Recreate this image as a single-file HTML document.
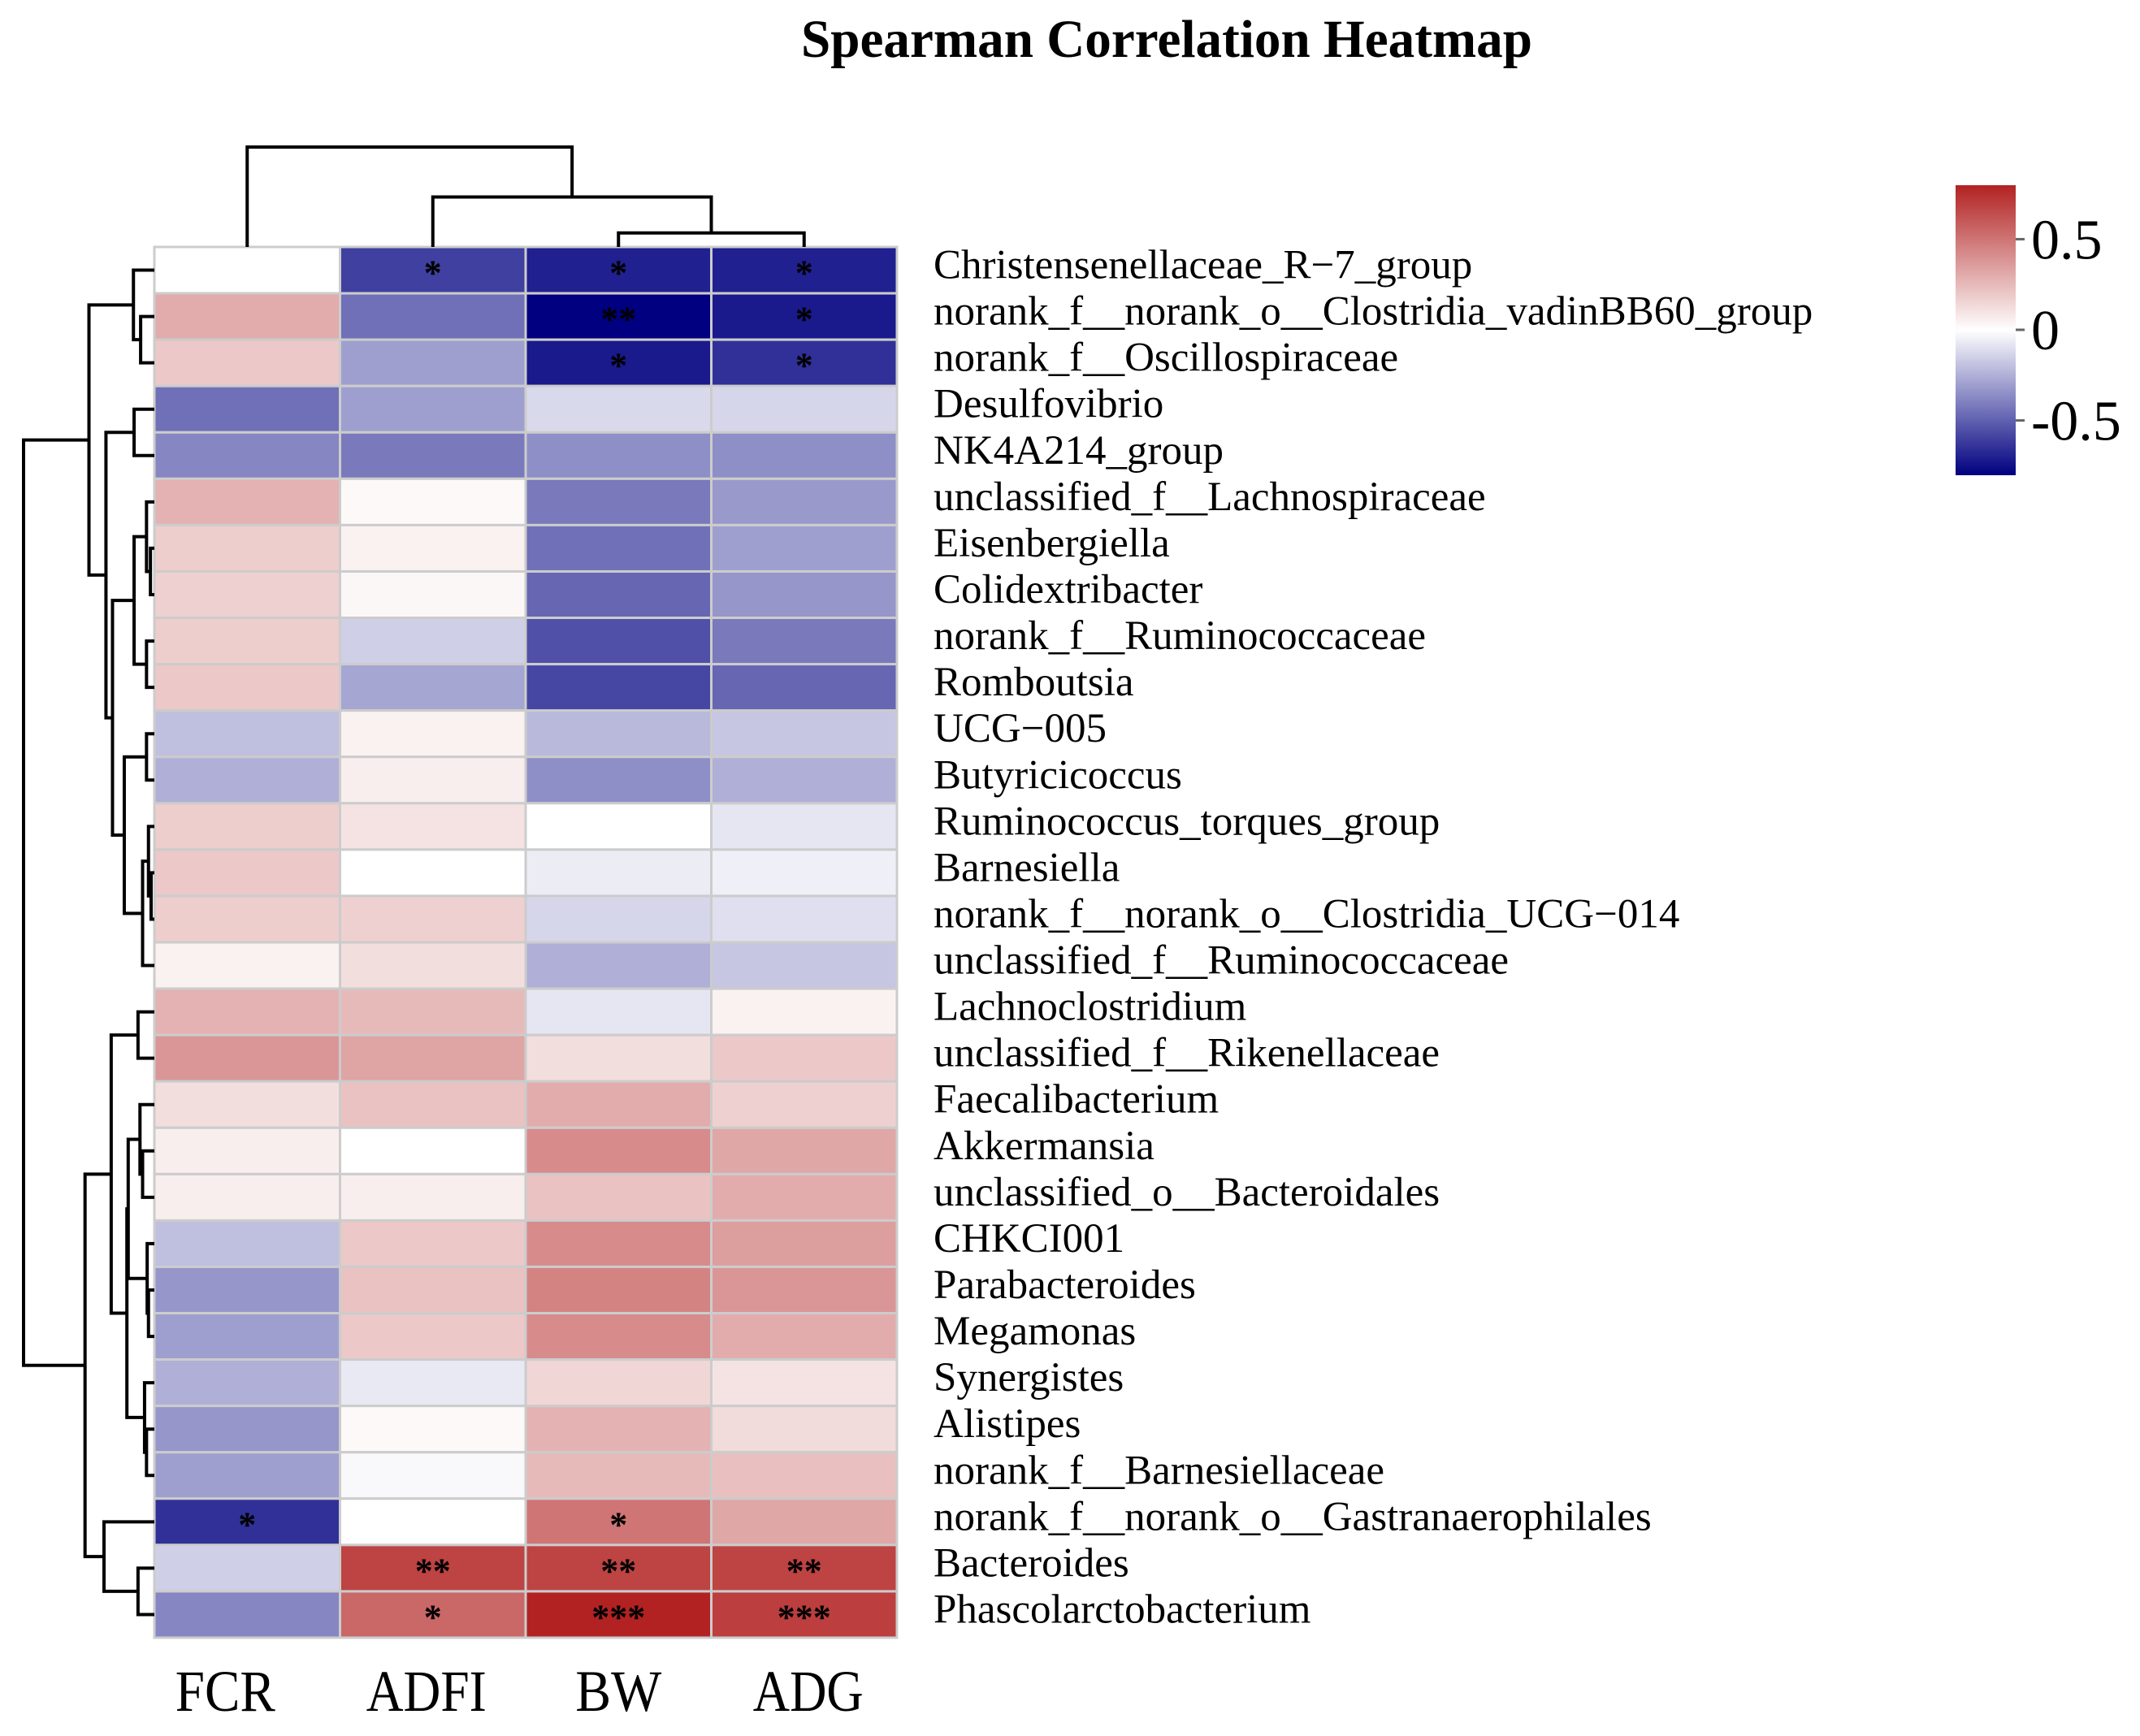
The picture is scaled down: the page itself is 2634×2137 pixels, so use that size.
<!DOCTYPE html>
<html><head><meta charset="utf-8"><style>
html,body{margin:0;padding:0;background:#fff}
svg{display:block}
text{font-family:"Liberation Serif",serif;fill:#000}
</style></head><body>
<svg id="chart" width="2634" height="2137" viewBox="0 0 2634 2137" xmlns="http://www.w3.org/2000/svg">
<rect width="2634" height="2137" fill="#fff"/>
<text x="1436" y="70" font-size="66" font-weight="bold" text-anchor="middle" textLength="900" lengthAdjust="spacingAndGlyphs">Spearman Correlation Heatmap</text>
<g id="cells"></g>
<g id="stars"></g>
<g id="rowlabels"></g>
<g id="collabels"></g>
<g id="rowdend"></g>
<g id="coldend"></g>
<defs>
<linearGradient id="cbgrad" x1="0" y1="1" x2="0" y2="0">
<stop offset="0" stop-color="#000080"/><stop offset="0.5" stop-color="#ffffff"/><stop offset="1" stop-color="#b22222"/>
</linearGradient>
</defs>
<g id="legend">
<rect x="2407" y="228" width="74" height="357" fill="url(#cbgrad)"/>
</g>
</svg>
<script>
const columns = ["FCR","ADFI","BW","ADG"];
const rows = ["Christensenellaceae_R\u22127_group","norank_f__norank_o__Clostridia_vadinBB60_group","norank_f__Oscillospiraceae","Desulfovibrio","NK4A214_group","unclassified_f__Lachnospiraceae","Eisenbergiella","Colidextribacter","norank_f__Ruminococcaceae","Romboutsia","UCG\u2212005","Butyricicoccus","Ruminococcus_torques_group","Barnesiella","norank_f__norank_o__Clostridia_UCG\u2212014","unclassified_f__Ruminococcaceae","Lachnoclostridium","unclassified_f__Rikenellaceae","Faecalibacterium","Akkermansia","unclassified_o__Bacteroidales","CHKCI001","Parabacteroides","Megamonas","Synergistes","Alistipes","norank_f__Barnesiellaceae","norank_f__norank_o__Gastranaerophilales","Bacteroides","Phascolarctobacterium"];
const valFCR  = [0.0,0.3,0.2,-0.45,-0.38,0.28,0.18,0.17,0.18,0.2,-0.2,-0.25,0.18,0.2,0.18,0.05,0.28,0.38,0.12,0.06,0.06,-0.2,-0.33,-0.3,-0.25,-0.33,-0.3,-0.65,-0.15,-0.38];
const valADFI = [-0.6,-0.45,-0.3,-0.3,-0.42,0.02,0.05,0.03,-0.15,-0.28,0.05,0.06,0.1,0.0,0.17,0.12,0.25,0.33,0.22,0.0,0.06,0.2,0.22,0.2,-0.07,0.02,-0.02,0.0,0.68,0.55];
const valBW   = [-0.7,-0.8,-0.72,-0.12,-0.35,-0.42,-0.45,-0.48,-0.55,-0.58,-0.22,-0.35,0.0,-0.06,-0.13,-0.25,-0.08,0.12,0.3,0.42,0.22,0.42,0.45,0.42,0.15,0.28,0.25,0.5,0.68,0.8];
const valADG  = [-0.7,-0.72,-0.65,-0.13,-0.35,-0.32,-0.3,-0.33,-0.42,-0.48,-0.18,-0.25,-0.08,-0.05,-0.1,-0.18,0.05,0.2,0.17,0.32,0.3,0.35,0.38,0.3,0.1,0.13,0.23,0.32,0.68,0.7];
const sigFCR  = ["","","","","","","","","","","","","","","","","","","","","","","","","","","","*","",""];
const sigADFI = ["*","","","","","","","","","","","","","","","","","","","","","","","","","","","","**","*"];
const sigBW   = ["*","**","*","","","","","","","","","","","","","","","","","","","","","","","","","*","**","***"];
const sigADG  = ["*","*","*","","","","","","","","","","","","","","","","","","","","","","","","","","**","***"];
const legendTicks = [0.5,0,-0.5];
const legendTickLabels = ["0.5","0","-0.5"];
const nA1 = [0,[1,2,0.105],0.16];
const nA2 = [3,4,0.155];
const nA3 = [[5,[6,7,0.03],0.06],[8,9,0.06],0.155];
const nA4 = [[10,11,0.06],[[12,[13,14,0.025],0.045],15,0.09],0.23];
const nA = [nA1,[nA2,[nA3,nA4,0.32],0.37],0.5];
const nB1 = [16,17,0.125];
const nB2 = [[18,[19,20,0.09],0.11],[21,[22,23,0.045],0.055],0.2];
const nB3 = [24,[25,26,0.06],0.075];
const nB4 = [27,[28,29,0.125],0.385];
const nB = [[nB1,[nB2,nB3,0.21],0.33],nB4,0.53];
const rowTree = [nA,nB,1.0];
const colTree = [0,[1,[2,3,0.14],0.5],1.0];

const NS="http://www.w3.org/2000/svg";
const X0=190, X1=1104, Y0=304, Y1=2016;
const cw=(X1-X0)/columns.length, rh=(Y1-Y0)/rows.length;
const xCol=i=>X0+i*cw, yRow=i=>Y0+i*rh;
const VMAX=0.8;
function color(v){
  let t=Math.max(-1,Math.min(1,v/VMAX));
  let r,g,b;
  if(t>=0){r=255+(178-255)*t;g=255+(34-255)*t;b=255+(34-255)*t;}
  else{t=-t;r=255-255*t;g=255-255*t;b=255-127*t;}
  return `rgb(${Math.round(r)},${Math.round(g)},${Math.round(b)})`;
}
function mk(tag,attrs,parent){const e=document.createElementNS(NS,tag);for(const k in attrs)e.setAttribute(k,attrs[k]);parent.appendChild(e);return e;}
const series=[valFCR,valADFI,valBW,valADG], sigs=[sigFCR,sigADFI,sigBW,sigADG];
const gC=document.getElementById('cells'), gS=document.getElementById('stars');
for(let c=0;c<columns.length;c++){
  for(let r=0;r<rows.length;r++){
    const e=mk('rect',{x:xCol(c),y:yRow(r),width:cw,height:rh,fill:color(series[c][r]),stroke:'#cccccc','stroke-width':3},gC);
    
    
    if(sigs[c][r]){
      const t=mk('text',{x:xCol(c)+cw/2,y:yRow(r)+rh/2+18,'font-size':44,'font-weight':'bold','text-anchor':'middle','font-family':'Liberation Sans, sans-serif'},gS);
      t.textContent=sigs[c][r];
      
      
    }
  }
}
const gR=document.getElementById('rowlabels');
rows.forEach((n,r)=>{
  const t=mk('text',{x:1149,y:yRow(r)+rh/2+10,'font-size':51},gR);
  t.textContent=n;
  
  
});
const gL=document.getElementById('collabels');
const colLabelShift=[-27,-8,0,5], colLabelWidth=[123,148,106,136];
columns.forEach((n,c)=>{
  const t=mk('text',{x:xCol(c)+cw/2+colLabelShift[c],y:2106,'font-size':72,'text-anchor':'middle',textLength:colLabelWidth[c],lengthAdjust:'spacingAndGlyphs'},gL);
  t.textContent=n;
  
  
});
const hx=h=>190-h*161;
const gRD=document.getElementById('rowdend');
function drawRow(n){
  if(typeof n==='number') return {y:yRow(n)+rh/2,x:190};
  const a=drawRow(n[0]), b=drawRow(n[1]), x=hx(n[2]);
  const p=mk('path',{d:`M${a.x},${a.y}H${x}V${b.y}H${b.x}`,fill:'none',stroke:'#000','stroke-width':4},gRD);
  
  
  return {y:(a.y+b.y)/2,x:x};
}
drawRow(rowTree);
const hy=h=>304-h*123;
const gCD=document.getElementById('coldend');
function drawCol(n){
  if(typeof n==='number') return {x:xCol(n)+cw/2,y:304};
  const a=drawCol(n[0]), b=drawCol(n[1]), y=hy(n[2]);
  const p=mk('path',{d:`M${a.x},${a.y}V${y}H${b.x}V${b.y}`,fill:'none',stroke:'#000','stroke-width':4},gCD);
  
  
  return {x:(a.x+b.x)/2,y:y};
}
drawCol(colTree);
const ly=v=>406-v*(585-228)/1.6;
const gLeg=document.getElementById('legend');
legendTicks.forEach((v,i)=>{
  const l=mk('line',{x1:2481,x2:2492,y1:ly(v),y2:ly(v),stroke:'#666','stroke-width':3},gLeg);
  
  
  const t=mk('text',{x:2500,y:ly(v)+24,'font-size':70},gLeg);
  t.textContent=legendTickLabels[i];
  
  
});
</script>
</body></html>
